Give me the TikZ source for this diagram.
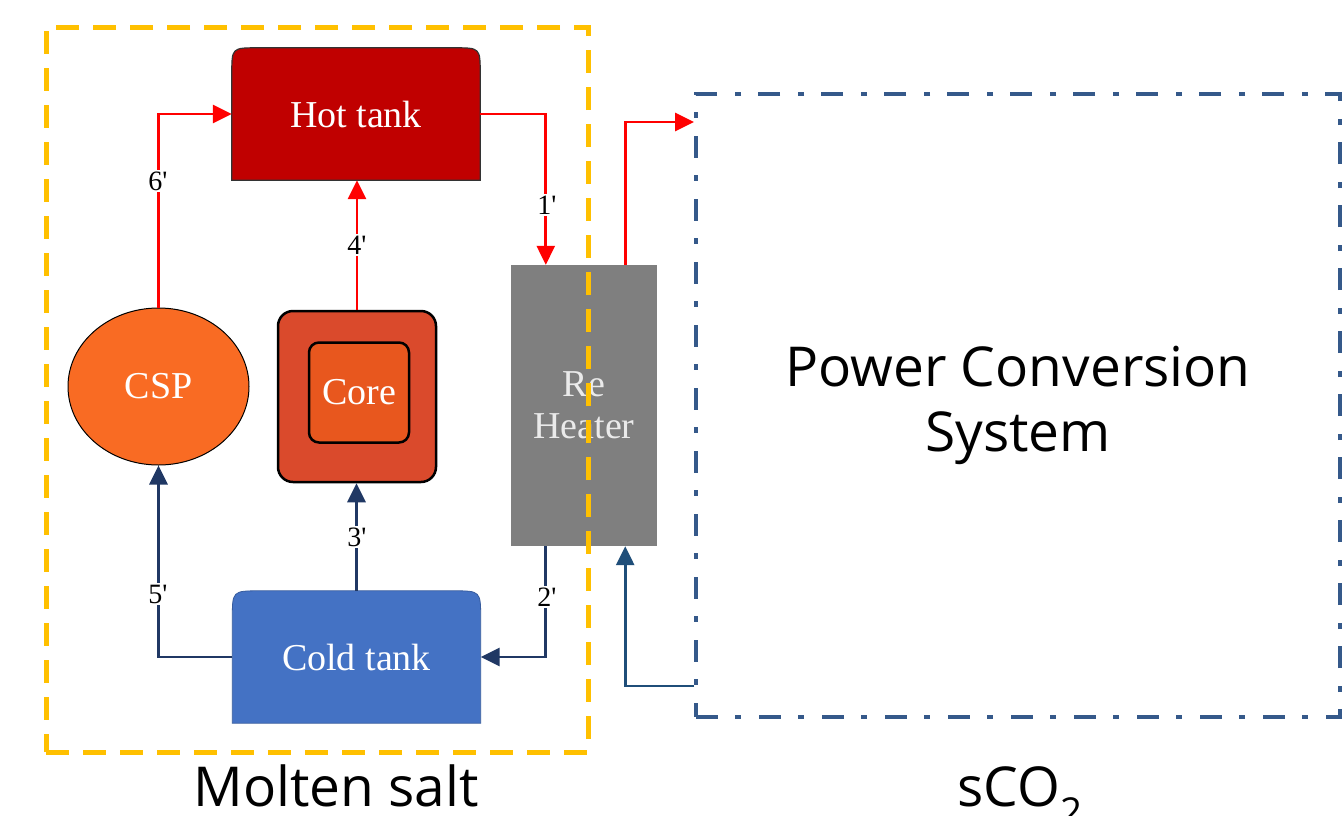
\documentclass[tikz,border=0pt]{standalone}
\usepackage{fontspec}
\setmainfont{Liberation Serif}
\newfontfamily\sansf{Open Sans}
\usetikzlibrary{calc,arrows.meta,backgrounds,shapes.geometric}
\definecolor{hotred}{HTML}{C00000}
\definecolor{coldblue}{HTML}{4472C4}
\definecolor{cspor}{HTML}{F96B23}
\definecolor{coreout}{HTML}{DA4A2C}
\definecolor{corein}{HTML}{E8571E}
\definecolor{rhgray}{HTML}{7F7F7F}
\definecolor{rhtext}{HTML}{EAEAEA}
\definecolor{flowred}{HTML}{FF0000}
\definecolor{navy}{HTML}{203864}
\definecolor{steel}{HTML}{1F4E79}
\definecolor{pcsblue}{HTML}{35598A}
\definecolor{msyellow}{HTML}{FFC000}
\newcommand\pr{\textquotesingle}
\begin{document}
\begin{tikzpicture}[x=1pt,y=-1pt,
  flow/.style={line width=2.8pt,-{Triangle[length=19pt,width=18pt]}},
  hotflow/.style={flow,draw=flowred},
  coldflow/.style={flow,draw=navy},
  lbl/.style={fill=white,inner sep=2pt,font=\fontsize{28}{30}\selectfont},
  nodetext/.style={text=white,font=\fontsize{38}{43}\selectfont},
  tank/.style={nodetext,minimum width=248pt,minimum height=132pt,inner sep=0pt},
  bigsans/.style={font=\sansf\fontsize{55}{65}\selectfont}
]
\useasboundingbox (0,0) rectangle (1342,815);

% tanks (text nodes; shapes on background)
\node[tank] (hot) at (356,114) {Hot tank};
\node[tank] (cold) at (356.5,657) {Cold tank};

\begin{pgfonlayer}{background}
\fill[white] (0,0) rectangle (1342,815);
\filldraw[fill=hotred,draw=black!80,line width=1.2pt]
  (hot.south west) -- ($(hot.north west)+(0,26)$)
  .. controls (hot.north west) .. ($(hot.north west)+(26,0)$)
  -- ($(hot.north east)+(-26,0)$)
  .. controls (hot.north east) .. ($(hot.north east)+(0,26)$)
  -- (hot.south east) -- cycle;
\filldraw[fill=coldblue,draw=coldblue!80!black,line width=0.8pt]
  (cold.south west) -- ($(cold.north west)+(0,28)$)
  .. controls (cold.north west) .. ($(cold.north west)+(28,0)$)
  -- ($(cold.north east)+(-28,0)$)
  .. controls (cold.north east) .. ($(cold.north east)+(0,28)$)
  -- (cold.south east) -- cycle;
\end{pgfonlayer}

\node[ellipse,draw=black,line width=1pt,fill=cspor,minimum width=181pt,minimum height=157pt,inner sep=0pt,nodetext] (csp) at (158.5,386.5) {CSP};
\node[draw=black,line width=2.5pt,rounded corners=15pt,fill=coreout,minimum width=158pt,minimum height=171pt] (core) at (357,396.5) {};
\node[draw=black,line width=2.5pt,rounded corners=10pt,fill=corein,minimum width=100pt,minimum height=100pt,nodetext] (corein) at (359,392.5) {Core};
\node[fill=rhgray,minimum width=146pt,minimum height=281pt,inner sep=0pt,align=center,text=rhtext,font=\fontsize{38}{42}\selectfont] (rh) at (584,405.5) {Re\\Heater};

% molten salt boundary
\node[draw=msyellow,line width=5pt,dash pattern=on 23pt off 14pt,minimum width=542pt,minimum height=725pt,inner sep=0pt] (ms) at (317,389.5) {};
\node[bigsans,anchor=base] (mslabel) at (336,806) {Molten salt};

% power conversion system
\node[draw=pcsblue,line width=4pt,dash pattern=on 22pt off 17pt on 6pt off 18pt,minimum width=644pt,minimum height=623pt,inner sep=0pt,align=center,bigsans] (pcs) at (1018,405.5) {Power Conversion\\System};
\node[bigsans,anchor=base] (co2label) at (1020,806) {sCO\textsubscript{2}};

% hot flows
\draw[hotflow] (csp.north) |- (hot.west);
\draw[hotflow] (core.north) -- (core.north |- hot.south);
\draw[hotflow] (hot.east) -| ($(rh.north west)+(35,0)$);
\draw[hotflow] ($(rh.north east)+(-32,0)$) |- ($(pcs.north west)+(0,30)$);

% cold flows
\draw[coldflow] (cold.west) -| (csp.south);
\draw[coldflow] (cold.north) -- (cold.north |- core.south);
\draw[coldflow] ($(rh.south west)+(35,0)$) |- (cold.east);
\draw[flow,draw=steel] ($(pcs.south west)+(0,-33)$) -| ($(rh.south east)+(-32,0)$);

% labels
\node[lbl] (l6) at (158,181) {6\pr};
\node[lbl] (l4) at (357,245) {4\pr};
\node[lbl] (l1) at (547,205) {1\pr};
\node[lbl] (l5) at (158,594) {5\pr};
\node[lbl] (l3) at (357,537) {3\pr};
\node[lbl] (l2) at (547,597) {2\pr};
\end{tikzpicture}
\end{document}
